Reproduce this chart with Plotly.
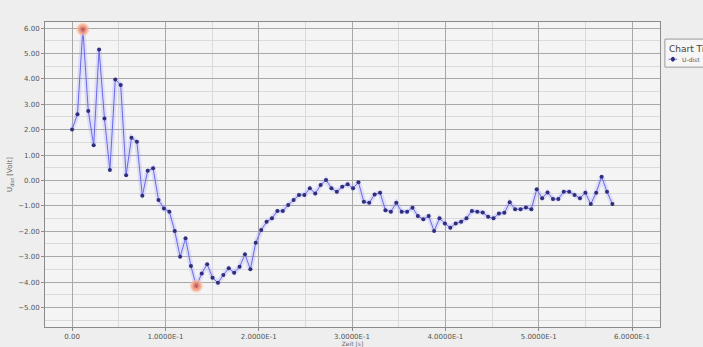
import numpy as np
import plotly.graph_objects as go

# Sample spacing along the x axis
x_step = 0.00579

# Measured signal values
u_values = [
    2.01, 2.61, 5.95, 2.74, 1.39, 5.16, 2.44, 0.41, 3.98, 3.76,
    0.21, 1.68, 1.52, -0.60, 0.38, 0.48, -0.77, -1.10, -1.23, -1.99,
    -3.00, -2.28, -3.37, -4.16, -3.66, -3.30, -3.83, -4.03, -3.72, -3.46,
    -3.63, -3.40, -2.91, -3.50, -2.45, -1.95, -1.63, -1.49, -1.20, -1.20,
    -0.97, -0.77, -0.57, -0.57, -0.31, -0.51, -0.18, 0.02, -0.31, -0.44,
    -0.25, -0.15, -0.31, -0.07, -0.84, -0.88, -0.55, -0.48, -1.17, -1.23,
    -0.88, -1.23, -1.23, -1.07, -1.40, -1.53, -1.40, -1.99, -1.49, -1.69,
    -1.86, -1.69, -1.63, -1.49, -1.20, -1.23, -1.26, -1.43, -1.49, -1.30,
    -1.27, -0.86, -1.13, -1.13, -1.06, -1.13, -0.35, -0.70, -0.47, -0.73,
    -0.73, -0.44, -0.44, -0.57, -0.70, -0.48, -0.93, -0.48, 0.15, -0.44,
    -0.93,
]

x_tick_vals = [0.0, 0.1, 0.2, 0.3, 0.4, 0.5, 0.6]
x_tick_text = ["0.00", "1.0000E-1", "2.0000E-1", "3.0000E-1",
               "4.0000E-1", "5.0000E-1", "6.0000E-1"]
y_tick_vals = [6, 5, 4, 3, 2, 1, 0, -1, -2, -3, -4, -5]

series_name = "U-dist"
legend_title = "Chart Title"

x_values = [i * x_step for i in range(len(u_values))]
i_max = int(np.argmax(u_values))
i_min = int(np.argmin(u_values))

fig = go.Figure()

# soft halo under the line
fig.add_trace(go.Scatter(
    x=x_values, y=u_values, mode="lines",
    line=dict(color="rgba(150,150,255,0.25)", width=5),
    hoverinfo="skip", showlegend=False,
))

fig.add_trace(go.Scatter(
    x=x_values, y=u_values, mode="lines+markers", name=series_name,
    line=dict(color="#6a6ae8", width=1),
    marker=dict(color="#2e2e7a", size=4),
    showlegend=False,
))

# highlighted extremes
fig.add_trace(go.Scatter(
    x=[x_values[i_max], x_values[i_min]],
    y=[u_values[i_max], u_values[i_min]],
    mode="markers",
    marker=dict(color="rgba(236,120,96,0.75)", size=10,
                line=dict(color="rgba(250,190,160,0.6)", width=3)),
    hoverinfo="skip", showlegend=False,
))

axis_common = dict(
    showline=True, linecolor="#8a8a8a", linewidth=1, mirror=True,
    showgrid=True, gridcolor="#a8a8a8", gridwidth=1,
    zeroline=False, automargin=False,
    ticks="outside", ticklen=3, tickcolor="#8a8a8a",
    tickfont=dict(family="DejaVu Sans", size=7, color="#555555"),
    minor=dict(showgrid=True, gridcolor="#dadada", gridwidth=1),
)

fig.update_xaxes(
    range=[-0.029, 0.630],
    tickvals=x_tick_vals, ticktext=x_tick_text,
    minor_dtick=0.05,
    title=dict(text="Zeit [s]", font=dict(family="DejaVu Sans", size=6, color="#666666"),
               standoff=1),
    **axis_common,
)
fig.update_yaxes(
    range=[-5.77, 6.24],
    tickvals=y_tick_vals, tickformat=".2f",
    minor_dtick=0.5,
    title=dict(text="U<sub>dist</sub> [Volt]",
               font=dict(family="DejaVu Sans", size=7, color="#666666"),
               standoff=4),
    **axis_common,
)

# Legend box at the right edge of the page (runs past the border)
lx0, ly_top, ly_bot = 1.008, 0.944, 0.852
fig.add_shape(type="rect", xref="paper", yref="paper",
              x0=lx0, x1=1.25, y0=ly_bot, y1=ly_top,
              line=dict(color="#9a9a9a", width=1), fillcolor="#f6f6f6", layer="above")
fig.add_annotation(xref="paper", yref="paper", x=lx0 + 0.004, y=ly_top - 0.008,
                   xanchor="left", yanchor="top", showarrow=False,
                   text=legend_title,
                   font=dict(family="DejaVu Sans", size=9, color="#444444"))
fig.add_shape(type="line", xref="paper", yref="paper",
              x0=lx0 + 0.006, x1=lx0 + 0.020, y0=0.878, y1=0.878,
              line=dict(color="#6a6ae8", width=1), layer="above")
fig.add_shape(type="circle", xref="paper", yref="paper",
              x0=lx0 + 0.0105, x1=lx0 + 0.0155, y0=0.8715, y1=0.8845,
              line=dict(color="#2e2e7a", width=1), fillcolor="#2e2e7a", layer="above")
fig.add_annotation(xref="paper", yref="paper", x=lx0 + 0.024, y=0.878,
                   xanchor="left", yanchor="middle", showarrow=False,
                   text=series_name,
                   font=dict(family="DejaVu Sans", size=6, color="#555555"))

fig.update_layout(
    width=703, height=347,
    margin=dict(l=45, r=43, t=22, b=20),
    paper_bgcolor="#eeeeee",
    plot_bgcolor="#f4f4f4",
    showlegend=False,
)

fig.write_html("out.html")
